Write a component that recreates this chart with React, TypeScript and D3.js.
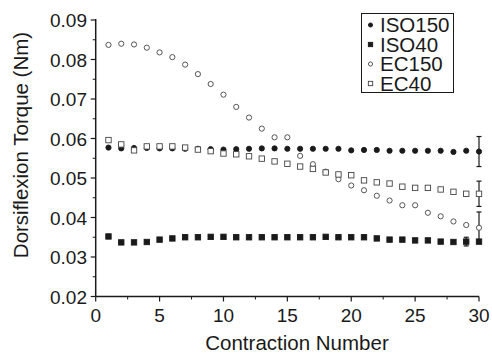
import React from 'react';
import {scaleLinear, range} from 'd3';

// contraction numbers 1..30
const contractions = range(1, 31);

const iso150 = [0.0577, 0.0575, 0.0576, 0.0576, 0.0575, 0.0575, 0.0574, 0.0574, 0.0573, 0.0572,
  0.0573, 0.0574, 0.0575, 0.0575, 0.0574, 0.0574, 0.0574, 0.0574, 0.0574, 0.0570,
  0.0571, 0.0571, 0.0569, 0.0569, 0.0569, 0.0569, 0.0569, 0.0566, 0.0569, 0.0567];
const iso40 = [0.0352, 0.0337, 0.0337, 0.0338, 0.0344, 0.0347, 0.0350, 0.0350, 0.0351, 0.0351,
  0.0350, 0.0350, 0.0350, 0.0350, 0.0350, 0.0350, 0.0350, 0.0351, 0.0350, 0.0350,
  0.0350, 0.0347, 0.0344, 0.0344, 0.0342, 0.0342, 0.0339, 0.0338, 0.0339, 0.0339];
const ec150 = [0.0837, 0.0840, 0.0838, 0.0830, 0.0818, 0.0806, 0.0787, 0.0763, 0.0738, 0.0711,
  0.0680, 0.0653, 0.0625, 0.0603, 0.0603, 0.0556, 0.0535, 0.0516, 0.0497, 0.0481,
  0.0469, 0.0455, 0.0443, 0.0431, 0.0431, 0.0412, 0.0403, 0.0390, 0.0381, 0.0374];
const ec40 = [0.0596, 0.0585, 0.0570, 0.0580, 0.0580, 0.0580, 0.0577, 0.0572, 0.0568, 0.0562,
  0.0560, 0.0555, 0.0549, 0.0542, 0.0536, 0.0529, 0.0523, 0.0514, 0.0509, 0.0507,
  0.0494, 0.0489, 0.0486, 0.0478, 0.0475, 0.0475, 0.0471, 0.0465, 0.0460, 0.0460];

// error bars (contraction, half range) per series
const iso150Err = [{x: 30, e: 0.0038}];
const iso40Err = [{x: 29, e: 0.0011}];
const ec150Err = [{x: 30, e: 0.0040}];
const ec40Err = [{x: 30, e: 0.0032}];

const xTicks = [0, 5, 10, 15, 20, 25, 30];
const yTicks = [0.02, 0.03, 0.04, 0.05, 0.06, 0.07, 0.08, 0.09];

const width = 492;
const height = 354;
const font = '"Liberation Sans", Arial, Helvetica, sans-serif';
const ink = '#1a1a1a';

export default function App() {
  const x = scaleLinear().domain([0, 30]).range([95.7, 479]);
  const y = scaleLinear().domain([0.02, 0.09]).range([296.5, 20]);

  const series = [
    {name: 'ISO150', values: iso150, err: iso150Err, shape: 'circle', filled: true},
    {name: 'ISO40', values: iso40, err: iso40Err, shape: 'square', filled: true},
    {name: 'EC150', values: ec150, err: ec150Err, shape: 'circle', filled: false},
    {name: 'EC40', values: ec40, err: ec40Err, shape: 'square', filled: false}
  ];

  const marker = (shape, filled, cx, cy, key, scale = 1) => {
    const fill = filled ? ink : '#fff';
    const stroke = filled ? ink : '#444';
    if (shape === 'circle') {
      return <circle key={key} cx={cx} cy={cy} r={2.6 * scale} fill={fill} stroke={stroke} strokeWidth={0.9} />;
    }
    const s = 5.4 * scale;
    return <rect key={key} x={cx - s / 2} y={cy - s / 2} width={s} height={s} fill={fill} stroke={stroke} strokeWidth={0.9} />;
  };

  const minorX = range(0, 30.01, 2.5).filter(v => v % 5 !== 0);
  const minorY = range(0.025, 0.09, 0.01);

  return (
    <svg width={width} height={height} style={{position: 'absolute', left: 0, top: 0}} fontFamily={font}>
      <rect width={width} height={height} fill="#fff" />

      {/* axes */}
      <line x1={x(0)} x2={x(0)} y1={y(0.09) - 1} y2={y(0.02)} stroke={ink} strokeWidth={1.5} />
      <line x1={x(0)} x2={x(30)} y1={y(0.02)} y2={y(0.02)} stroke={ink} strokeWidth={1.5} />

      {yTicks.map(t => (
        <g key={'y' + t}>
          <line x1={x(0) - 5} x2={x(0)} y1={y(t)} y2={y(t)} stroke={ink} strokeWidth={1.2} />
          <text x={87} y={y(t) + 7} textAnchor="end" fontSize={19} fill={ink}>{t.toFixed(2)}</text>
        </g>
      ))}
      {minorY.map(t => (
        <line key={'my' + t} x1={x(0) - 3} x2={x(0)} y1={y(t)} y2={y(t)} stroke={ink} strokeWidth={1} />
      ))}
      {xTicks.map(t => (
        <g key={'x' + t}>
          <line x1={x(t)} x2={x(t)} y1={y(0.02)} y2={y(0.02) + 5} stroke={ink} strokeWidth={1.2} />
          <text x={x(t)} y={321.5} textAnchor="middle" fontSize={19} fill={ink}>{t}</text>
        </g>
      ))}
      {minorX.map(t => (
        <line key={'mx' + t} x1={x(t)} x2={x(t)} y1={y(0.02)} y2={y(0.02) + 3} stroke={ink} strokeWidth={1} />
      ))}

      <text x={297} y={350} textAnchor="middle" fontSize={20.5} fill={ink}>Contraction Number</text>
      <text transform={`translate(28,145) rotate(-90)`} textAnchor="middle" fontSize={20.5} fill={ink}>
        Dorsiflexion Torque (Nm)
      </text>

      {/* error bars */}
      {series.map(s => s.err.map(d => {
        const v = s.values[d.x - 1];
        const cx = x(d.x);
        return (
          <g key={s.name + 'e' + d.x} stroke={ink} strokeWidth={1.2}>
            <line x1={cx} x2={cx} y1={y(v + d.e)} y2={y(v - d.e)} />
            <line x1={cx - 2.5} x2={cx + 2.5} y1={y(v + d.e)} y2={y(v + d.e)} />
            <line x1={cx - 2.5} x2={cx + 2.5} y1={y(v - d.e)} y2={y(v - d.e)} />
          </g>
        );
      }))}

      {/* markers */}
      {series.map(s => (
        <g key={s.name}>
          {s.values.map((v, i) => marker(s.shape, s.filled, x(contractions[i]), y(v), s.name + i))}
        </g>
      ))}

      {/* legend */}
      <rect x={361.5} y={13.5} width={92} height={79} fill="#fff" stroke={ink} strokeWidth={1} />
      {series.map((s, i) => (
        <g key={'lg' + s.name}>
          {marker(s.shape, s.filled, 370.5, 25 + i * 19.5, 'lm' + i, 0.8)}
          <text x={380} y={25 + i * 19.5 + 7} fontSize={20.5} fill={ink}>{s.name}</text>
        </g>
      ))}
    </svg>
  );
}
